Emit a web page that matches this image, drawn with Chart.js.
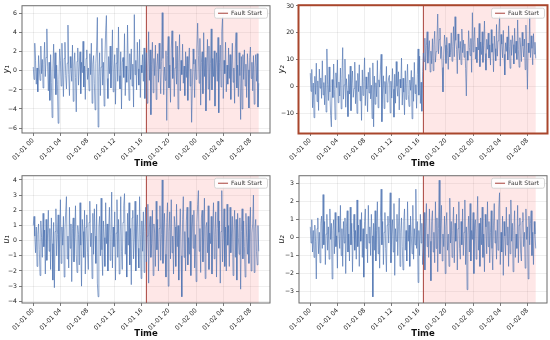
<!DOCTYPE html>
<html><head><meta charset="utf-8">
<script src="https://cdn.jsdelivr.net/npm/chart.js@4.4.0/dist/chart.umd.min.js"></script>
<style>
html,body{margin:0;padding:0;background:#fff;width:550px;height:340px;overflow:hidden;}
canvas{position:absolute;}
</style></head><body>
<canvas id="c1" width="275" height="170" style="left:0;top:0"></canvas>
<canvas id="c2" width="275" height="170" style="left:275px;top:0"></canvas>
<canvas id="c3" width="275" height="170" style="left:0;top:170px"></canvas>
<canvas id="c4" width="275" height="170" style="left:275px;top:170px"></canvas>
<script>
// sampling: one value every 1/9 hour starting 01-01 00:00
const stepHours = 1/9;
const faultIndex = 150;
const xTickHours = [0,4,8,12,16,20,24,28,32];
const xTickLabels = ['01-01 00','01-01 04','01-01 08','01-01 12','01-01 16','01-01 20','01-02 00','01-02 04','01-02 08'];

const y1Values = [
 0.4,-0.9,2.9,1.1,-1.4,0.3,-2.2,1.6,0.2,-1.0,2.6,-0.3,1.2,-1.8,0.7,3.0,-0.6,1.4,4.4,0.5,
 -2.1,0.9,-3.1,1.7,-1.2,-4.9,0.2,2.8,-0.8,1.9,-2.5,0.6,-1.4,-5.5,-0.9,2.3,1.1,-1.6,2.9,0.0,
 -2.7,1.3,3.0,-0.5,-1.9,0.8,4.8,-0.4,-2.6,1.5,0.3,-1.1,2.7,-3.2,0.6,1.9,-0.7,-4.3,1.0,2.4,
 -1.5,0.4,2.0,-2.4,0.9,-0.2,3.1,-1.7,0.5,-3.0,1.3,2.2,-0.9,0.3,-2.1,1.8,-0.4,2.9,-3.4,0.7,
 1.6,-1.3,-4.1,0.8,2.5,5.6,-5.9,-0.6,1.9,-2.6,0.4,3.4,-1.5,0.9,-3.7,1.2,4.2,5.8,-0.8,-2.9,
 1.5,-0.3,2.6,-1.8,0.6,4.3,-2.2,0.1,1.7,-3.5,0.8,2.4,-1.1,4.6,-0.5,-1.9,2.0,-4.0,0.9,1.4,
 -0.7,3.9,-2.6,0.5,-1.2,4.8,0.3,-3.1,1.8,-0.9,2.3,-1.6,0.7,-3.8,5.9,-0.4,1.1,-2.0,3.0,0.2,
 -1.5,3.3,-2.8,0.6,-0.2,1.7,-1.1,2.4,-2.9,0.8,1.9,-3.4,0.5,4.1,-1.0,2.2,-4.6,0.7,3.0,-2.3,
 1.3,-0.5,2.7,-3.0,0.4,1.8,-1.2,2.9,0.2,-2.4,1.0,6.1,1.3,-2.5,0.4,-1.0,2.1,-5.2,1.6,3.6,
 -1.8,0.6,-3.3,2.3,4.2,-0.8,1.4,-2.7,0.3,3.1,-1.4,2.6,-4.0,0.9,3.8,-2.1,1.1,-0.4,2.8,-1.3,
 0.5,-2.6,2.0,-0.7,1.5,-3.1,0.8,2.4,-1.6,0.2,-5.4,-1.5,2.3,0.7,-2.8,1.2,-0.9,2.5,5.0,1.6,
 -1.3,3.4,-3.6,0.9,2.0,-2.4,4.0,-0.6,1.4,-4.2,0.1,3.3,-1.9,2.6,-3.1,0.8,4.4,-2.0,1.3,-0.6,
 2.1,-3.7,0.4,1.9,-1.1,3.5,-4.4,0.9,2.7,-1.7,4.1,5.6,-2.9,1.1,-0.3,3.0,-2.2,0.6,-1.4,2.4,
 -0.8,1.7,-3.0,0.5,2.9,-1.2,0.3,-3.4,2.4,4.0,-1.8,0.6,-2.7,1.9,-0.5,-5.1,1.5,-4.0,1.7,-0.9,
 2.2,-1.6,0.7,-2.8,1.8,0.1,-3.9,1.4,2.5,-0.8,0.9,-2.1,1.6,-3.5,0.4,1.7,-1.1,1.8,-3.8,-1.3
];
const y2Values = [
 5.0,-1.8,6.4,-7.9,1.3,-11.6,3.8,-2.9,8.7,-5.6,2.1,-8.9,6.5,-0.6,3.2,-4.4,9.6,-3.1,1.5,-6.8,
 4.2,-9.5,14.0,0.8,-5.2,7.3,-2.0,-10.7,-15.0,2.6,-4.1,8.4,-1.2,-12.3,5.1,-0.4,9.9,-6.0,1.7,-3.5,
 6.9,-8.3,3.0,14.5,-4.7,0.6,10.2,-7.7,2.9,-1.6,-11.2,4.5,-2.8,7.6,-9.0,1.1,5.8,-4.0,-0.7,9.1,
 -6.4,2.2,-10.0,4.9,-1.9,8.1,-5.3,0.2,-12.6,6.2,-3.3,1.8,10.7,-7.1,3.6,-0.9,-9.4,5.3,-2.4,7.0,
 -4.6,0.5,-11.9,8.8,-15.0,3.9,-6.6,1.4,-3.8,9.7,-7.9,2.5,-0.2,6.1,12.0,-13.1,-1.3,4.0,-8.2,1.9,
 -2.7,7.5,-5.8,0.9,3.4,4.2,-9.8,2.0,-4.3,6.7,-1.0,-11.4,4.6,-6.2,9.3,0.1,-3.6,5.5,-8.7,2.7,
 -0.5,10.6,-6.9,3.1,-2.1,-10.5,5.9,-4.8,1.2,8.3,-3.0,-7.4,2.4,-1.4,6.0,-12.0,3.5,-5.5,9.0,-2.6,
 0.7,-8.1,4.4,14.0,-3.2,11.3,-6.3,1.6,-9.2,5.6,12.5,9.3,18.0,6.1,15.3,20.4,8.7,13.9,17.1,5.4,
 13.2,8.5,17.8,5.9,15.7,20.6,9.1,13.0,16.9,27.0,12.2,17.5,21.8,10.4,14.9,7.1,-2.0,11.8,19.2,15.4,
 8.6,18.3,13.5,6.4,16.1,11.0,12.7,20.0,9.4,15.0,22.3,11.1,26.0,17.2,13.8,4.8,19.6,14.3,10.0,16.8,
 8.2,21.4,12.6,17.3,10.9,15.9,6.7,-3.5,13.2,9.8,20.8,14.6,11.5,17.9,5.3,27.5,12.9,16.4,22.0,10.2,
 14.7,8.9,18.1,13.6,23.5,7.4,16.6,11.9,20.4,9.0,15.2,24.4,12.3,6.1,17.6,13.9,19.9,10.6,15.5,8.0,
 21.2,12.8,16.0,5.5,18.8,14.1,9.6,23.1,11.3,17.0,19.5,26.0,7.6,19.4,15.8,10.7,20.9,12.0,4.3,16.3,
 13.1,18.5,9.9,22.6,14.8,6.8,17.4,11.6,19.0,15.6,8.4,21.7,12.4,16.9,10.1,24.8,13.7,7.2,18.2,14.4,
 9.3,20.2,15.1,11.0,17.7,6.3,22.9,13.3,-1.0,16.2,12.6,26.0,10.8,18.9,14.2,8.1,19.7,12.1,16.5,10.5
];
const u1Values = [
 1.0,1.6,0.3,-0.8,0.9,-1.7,0.4,1.1,-0.6,-2.3,1.3,0.2,-1.1,1.8,-0.4,0.7,-2.2,1.4,-1.3,0.5,
 2.0,-0.7,0.8,-1.9,1.5,-0.2,-2.6,1.2,-3.1,0.6,2.1,-1.0,0.4,1.7,-2.0,0.1,2.7,-1.5,0.9,-0.3,
 1.6,-2.4,0.7,1.9,2.9,-1.2,0.3,-1.8,2.2,-0.5,1.1,-2.7,0.8,1.5,-1.4,0.2,2.3,-0.9,-2.1,1.0,
 0.4,-1.6,2.5,-0.3,-3.0,1.4,0.6,-1.1,2.0,-2.2,0.9,1.7,-0.8,-1.9,1.2,2.6,-0.4,0.5,-2.5,1.8,
 -0.9,2.1,0.3,-1.5,2.4,-2.8,-3.7,0.9,1.6,-1.0,2.8,-0.6,-2.3,1.3,0.2,-1.7,2.5,-0.2,1.1,-2.0,
 0.7,2.2,-1.3,0.4,3.2,-1.8,0.9,-0.4,1.9,-2.6,0.5,2.7,-1.1,1.4,-2.2,0.3,2.9,-0.7,-1.9,1.2,
 2.3,3.1,-0.9,0.6,-2.4,1.8,-0.3,2.5,-1.6,0.8,-2.9,1.5,2.0,-1.2,0.1,2.6,-2.0,0.9,1.7,-0.5,
 -1.8,2.9,0.4,-2.5,1.3,-0.7,1.9,-2.1,0.6,2.2,-1.4,0.3,2.4,-2.8,0.9,1.6,-1.1,-0.2,2.0,-2.3,
 1.1,0.5,-1.7,2.6,-0.6,1.4,-2.0,0.8,2.3,-1.3,0.4,4.0,-1.5,0.7,1.8,-0.9,-2.4,1.2,2.5,-3.0,
 0.6,1.9,-1.2,2.7,-0.8,0.3,-2.2,1.6,0.9,-1.7,2.4,-0.4,1.0,-2.6,0.5,2.1,-1.0,-3.7,1.4,2.9,
 -1.1,0.6,-2.0,1.3,2.2,-1.6,0.2,-0.9,2.6,-2.3,0.9,1.7,-0.5,2.0,-1.8,0.4,-2.7,1.2,2.4,3.3,
 -0.7,0.8,-2.1,1.5,2.0,-1.4,0.3,2.8,-2.5,0.9,1.2,-0.8,2.3,-1.9,0.5,-0.2,1.6,-2.2,0.7,2.5,
 -1.2,0.4,1.9,-2.4,0.8,2.6,-0.5,1.3,-2.8,0.6,3.3,-1.4,0.3,2.1,-1.7,0.9,-2.0,2.4,-0.3,1.0,
 -1.7,2.2,-0.8,0.5,1.6,-2.3,0.7,2.0,-1.1,1.4,-2.6,1.8,0.2,-0.9,1.5,-3.2,0.6,2.1,-1.2,1.3,
 -0.4,-2.4,1.8,0.2,-0.9,1.6,-1.5,0.8,2.2,-2.0,0.5,1.1,3.0,-2.1,0.8,1.4,-0.7,-1.6,1.0,-0.7
];
const u2Values = [
 0.6,-0.3,1.0,-0.8,0.4,-1.1,0.7,-0.2,-2.3,0.5,1.1,-0.9,0.3,-1.4,0.8,1.2,-0.6,2.4,-0.4,0.9,
 -1.5,0.2,1.3,-0.7,0.6,-1.2,1.6,-0.1,0.8,-2.3,0.4,1.0,-0.9,1.4,-0.5,0.1,-1.7,1.2,0.3,-0.6,
 1.8,-1.0,0.5,-1.6,0.9,-0.3,1.1,-2.0,0.6,1.5,-0.8,0.2,-1.3,1.7,-0.4,0.8,-1.9,0.3,1.3,-0.7,
 0.4,-1.2,2.1,-0.5,0.7,-1.6,1.0,-0.2,1.4,-1.1,0.5,-2.2,0.9,1.6,-0.6,0.2,-1.4,1.8,-0.3,0.6,
 -1.0,1.3,0.1,-3.3,0.8,-0.7,1.5,-1.3,0.4,2.0,-0.9,0.6,-1.7,1.1,2.7,-0.4,0.9,-1.5,0.3,1.4,
 -0.6,-1.9,0.7,1.2,-0.3,0.8,2.5,-1.4,0.2,1.0,-0.8,1.9,-2.1,0.5,-0.2,1.3,-1.0,0.6,2.2,-1.6,
 0.3,1.1,-0.5,-1.8,0.9,1.6,-0.7,0.4,-1.3,2.0,-0.2,0.7,-1.6,1.2,0.1,-0.9,1.8,-1.2,0.5,-0.4,
 2.7,-0.6,0.9,-2.5,0.4,-1.0,1.3,-0.3,0.8,-1.5,-0.7,1.4,-1.8,0.6,1.9,-0.5,0.2,-1.1,1.6,-0.2,
 -2.4,0.9,1.5,-0.8,0.3,-1.4,2.0,-0.6,1.1,-1.9,0.5,3.2,-0.9,0.7,1.8,-1.3,0.2,-0.5,1.2,-2.0,
 0.6,1.4,-0.7,0.2,-1.6,2.2,-0.3,0.9,-1.1,0.4,1.7,-1.4,0.8,-0.2,1.3,-1.8,0.5,2.0,-0.6,-1.2,
 0.9,-0.4,1.6,-1.0,0.3,2.1,-1.5,0.6,-2.9,0.2,1.2,-0.8,1.9,-1.3,0.4,-0.1,1.4,-2.0,0.7,1.0,
 -1.2,0.5,2.3,-0.7,0.8,-1.6,1.1,-0.4,1.7,-1.1,0.2,-1.9,1.3,0.6,-0.9,2.0,-0.5,0.9,-1.4,0.3,
 1.5,-0.6,-1.8,0.7,1.9,-0.3,0.4,-1.2,1.0,-0.7,1.6,2.5,-1.5,0.3,-0.8,1.2,-2.1,0.9,0.1,-1.0,
 1.7,-0.4,0.6,-1.6,1.3,-0.9,2.1,-0.2,0.8,-1.9,0.4,1.5,-1.1,0.2,-0.6,1.8,-1.4,0.7,1.1,-0.8,
 -1.3,0.9,1.4,-0.5,0.3,-1.7,1.6,-0.1,0.6,-2.3,1.2,-0.4,0.8,1.5,-1.0,0.3,-1.5,0.9,0.2,-0.6
];
const y1Ticks = [-6,-4,-2,0,2,4,6];
const y2Ticks = [-10,0,10,20,30];
const u1Ticks = [-4,-3,-2,-1,0,1,2,3,4];
const u2Ticks = [-3,-2,-1,0,1,2,3];
const legendLabel = 'Fault Start';

const FONT = "'DejaVu Sans', sans-serif";
const faultHour = faultIndex * stepHours;
const FAULT_COLOR = '#a8403a';

const shadePlugin = {
  id: 'shade',
  beforeDatasetsDraw(chart) {
    const {ctx, chartArea: a, scales: {x}} = chart;
    const n = chart.data.datasets[0].data.length;
    const x0 = x.getPixelForValue(faultHour);
    const x1 = x.getPixelForValue((n - 1) * stepHours);
    ctx.save();
    ctx.fillStyle = 'rgba(245,95,95,0.15)';
    ctx.fillRect(x0, a.top, x1 - x0, a.bottom - a.top);
    ctx.restore();
  }
};
const framePlugin = {
  id: 'frame',
  afterDatasetsDraw(chart, args, opts) {
    const {ctx, chartArea: a} = chart;
    ctx.save();
    ctx.strokeStyle = opts.color;
    ctx.lineWidth = opts.width;
    const o = opts.width / 2;
    ctx.strokeRect(a.left - o + 0.5, a.top - o + 0.5, a.right - a.left + 2 * o - 1, a.bottom - a.top + 2 * o - 1);
    // legend box, upper right inside the axes
    const ds = chart.data.datasets[1];
    ctx.font = '6px ' + FONT;
    const tw = ctx.measureText(ds.label).width;
    const bw = tw + 22, bh = 10;
    const bx = a.right - 3 - bw, by = a.top + 2;
    ctx.fillStyle = 'rgba(255,255,255,0.85)';
    ctx.strokeStyle = '#cccccc';
    ctx.lineWidth = 0.8;
    ctx.beginPath();
    ctx.roundRect(bx + 0.5, by + 0.5, bw, bh, 2);
    ctx.fill();
    ctx.stroke();
    ctx.strokeStyle = ds.borderColor;
    ctx.lineWidth = 1;
    ctx.beginPath();
    ctx.moveTo(bx + 4, by + bh / 2 + 0.5);
    ctx.lineTo(bx + 14, by + bh / 2 + 0.5);
    ctx.stroke();
    ctx.fillStyle = '#333';
    ctx.textBaseline = 'middle';
    ctx.textAlign = 'left';
    ctx.fillText(ds.label, bx + 17, by + bh / 2 + 1);
    ctx.restore();
  }
};

function makeChart(id, values, yLabel, yTicks, yMin, yMax, axisWidth, padRight, frameColor, frameWidth) {
  const data = values.map((v, i) => ({x: i * stepHours, y: v}));
  const lastHour = (values.length - 1) * stepHours;
  const margin = 0.05 * lastHour;
  new Chart(document.getElementById(id), {
    type: 'line',
    data: {
      datasets: [
        {label: yLabel, data: data, borderColor: 'rgba(76,114,176,0.8)', borderWidth: 0.8,
         pointRadius: 0, tension: 0, fill: false},
        {label: legendLabel, data: [{x: faultHour, y: yMin}, {x: faultHour, y: yMax}],
         borderColor: FAULT_COLOR, borderWidth: 1, pointRadius: 0, fill: false}
      ]
    },
    options: {
      responsive: false, animation: false,
      layout: {padding: {left: 0, right: padRight, top: 4, bottom: 0}},
      plugins: {
        legend: {display: false},
        tooltip: {enabled: false},
        frame: {color: frameColor, width: frameWidth}
      },
      scales: {
        x: {
          type: 'linear', min: -margin, max: lastHour + margin,
          afterBuildTicks: (s) => { s.ticks = xTickHours.map(v => ({value: v})); },
          afterFit: (s) => { s.height = 37; },
          ticks: {
            callback: (v) => { const k = xTickHours.indexOf(v); return k >= 0 ? xTickLabels[k] : ''; },
            minRotation: 45, maxRotation: 45, autoSkip: false,
            font: {family: FONT, size: 6.2}, color: '#222', padding: 1
          },
          grid: {color: 'rgba(0,0,0,0.09)', lineWidth: 0.7, tickLength: 3, tickColor: '#444'},
          border: {display: false},
          title: {display: true, text: 'Time', font: {family: FONT, size: 8.5, weight: 'bold'}, color: '#111', padding: {top: 0, bottom: 1}}
        },
        y: {
          min: yMin, max: yMax,
          afterBuildTicks: (s) => { s.ticks = yTicks.map(v => ({value: v})); },
          afterFit: (s) => { s.width = axisWidth; },
          ticks: {font: {family: FONT, size: 6.2}, color: '#222', padding: 2,
                  callback: (v) => (v < 0 ? '\u2212' + Math.abs(v) : String(v))},
          grid: {color: 'rgba(0,0,0,0.09)', lineWidth: 0.7, tickLength: 3, tickColor: '#444'},
          border: {display: false},
          title: {display: true, text: yLabel, font: {family: FONT, size: 8, style: 'italic'}, color: '#111', padding: {top: 2, bottom: 2}}
        }
      }
    },
    plugins: [shadePlugin, framePlugin]
  });
}

makeChart('c1', y1Values, 'y\u2081', y1Ticks, -6.52, 6.83, 22, 5, '#6b6b6b', 1);
makeChart('c2', y2Values, 'y\u2082', y2Ticks, -17.3, 30.1, 24, 3, '#a9462c', 2);
makeChart('c3', u1Values, 'u\u2081', u1Ticks, -4.11, 4.28, 22, 5, '#6b6b6b', 1);
makeChart('c4', u2Values, 'u\u2082', u2Ticks, -3.64, 3.45, 24, 3, '#6b6b6b', 1);
</script>
</body></html>
